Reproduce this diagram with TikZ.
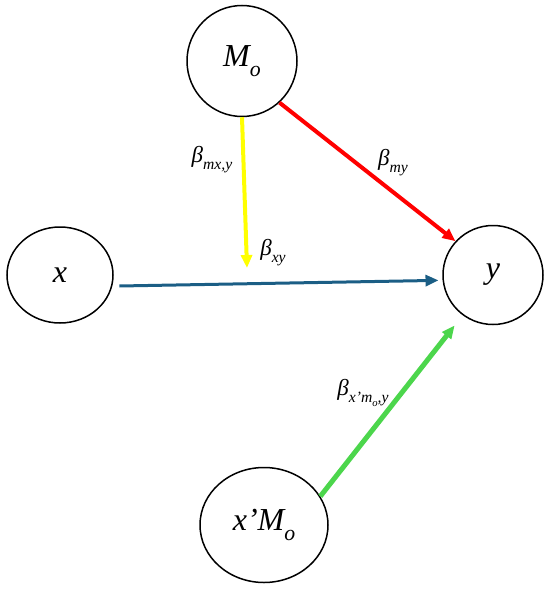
\documentclass[tikz,border=0pt]{standalone}
\usepackage{fontspec}
\setmainfont{Liberation Serif}
\usepackage{tikz}
\usetikzlibrary{arrows.meta,shapes.geometric}
\definecolor{pathred}{HTML}{FF0000}
\definecolor{pathyellow}{HTML}{FFFF00}
\definecolor{pathgreen}{HTML}{4CD64C}
\definecolor{pathblue}{HTML}{1B5E85}
\newcommand{\dn}[1]{\raisebox{-0.3em}{\scalebox{0.68}{#1}}}
\tikzset{
  varnode/.style={draw=black,ellipse,line width=1.5pt,inner sep=0pt,font=\fontsize{32}{36}\selectfont\itshape},
  coefnode/.style={inner sep=1pt,font=\fontsize{23}{26}\selectfont\itshape},
  patharrow/.style={-{Triangle[length=13pt,width=11pt]},line width=4pt},
}

\begin{document}
\begin{tikzpicture}[x=1pt,y=-1pt]
    \useasboundingbox (0,0) rectangle (550,589);
    \node[varnode,minimum width=110pt,minimum height=111pt] (mo) at (242,61) {M\dn{o}};
    \node[varnode,minimum width=106pt,minimum height=96pt] (x) at (60,275) {x};
    \node[varnode,minimum width=100pt,minimum height=99pt] (y) at (493,275) {y};
    \node[varnode,minimum width=128pt,minimum height=115pt] (xmo) at (264,525) {x'M\dn{o}};
    \coordinate (ytip) at (247,268);
    \draw[patharrow,draw=pathyellow,fill=pathyellow] (mo.south) -- (ytip);
    \draw[patharrow,draw=pathred,fill=pathred] (mo.-48) -- (y.138);
    \draw[patharrow,draw=pathblue,fill=pathblue,line width=3pt,shorten <=7pt,shorten >=4pt] (x.-12) -- (y.186);
    \draw[patharrow,draw=pathgreen,fill=pathgreen,line width=5pt,shorten >=13pt] (xmo.27) -- (y.233);
    \node[coefnode] (bmxy) at (212,160) {β\dn{mx,y}};
    \node[coefnode] (bmy) at (393,163) {β\dn{my}};
    \node[coefnode] (bxy) at (273,253) {β\dn{xy}};
    \node[coefnode] (bxmoy) at (363,393) {β\dn{x'm\dn{o},y}};
  \end{tikzpicture}
\end{document}
